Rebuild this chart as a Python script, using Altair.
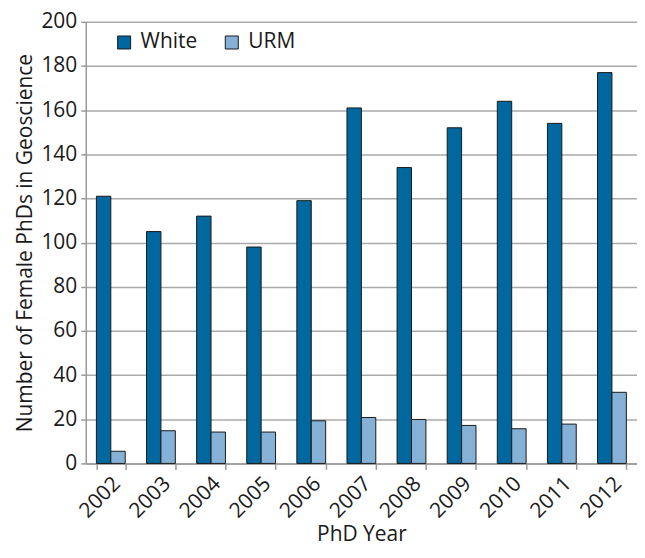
import altair as alt
import pandas as pd

years = ["2002", "2003", "2004", "2005", "2006", "2007", "2008", "2009", "2010", "2011", "2012"]
white = [121, 105, 112, 98, 119, 161, 134, 152, 164, 154, 177]
urm = [5.5, 14.8, 14.2, 14.2, 19.3, 20.8, 19.9, 17.2, 15.7, 17.8, 32.2]
groups = ["White", "URM"]
colors = ["#00679f", "#85b1d6"]

rows = []
for y, w, u in zip(years, white, urm):
    rows.append({"year": y, "group": "White", "value": w})
    rows.append({"year": y, "group": "URM", "value": u})
df = pd.DataFrame(rows)

FONT = "Open Sans"
FS = 21

chart = alt.Chart(df).mark_bar(stroke="#1a1a1a", strokeWidth=1).encode(
    x=alt.X("year:N", title="PhD Year", sort=years,
            scale=alt.Scale(paddingInner=0.425, paddingOuter=0.2125),
            axis=alt.Axis(labelAngle=-45, labelAlign="right", labelBaseline="middle",
                          tickBand="extent", domainColor="#999999", tickColor="#999999",
                          tickSize=6, domainWidth=1.5, tickWidth=1.5,
                          labelFontSize=FS, titleFontSize=FS, labelPadding=11,
                          labelOffset=6,
                          titlePadding=2, labelColor="#1a1a1a", titleColor="#1a1a1a",
                          titleFontWeight="normal", labelFont=FONT, titleFont=FONT)),
    xOffset=alt.XOffset("group:N", sort=groups),
    y=alt.Y("value:Q", title="Number of Female PhDs in Geoscience",
            scale=alt.Scale(domain=[0, 200]),
            axis=alt.Axis(values=list(range(0, 201, 20)), domainColor="#999999",
                          tickColor="#999999", tickSize=5, domainWidth=1.5, tickWidth=1.5,
                          gridColor="#aaaaaa", gridWidth=1.5,
                          labelFontSize=FS, titleFontSize=FS, labelPadding=4,
                          titlePadding=5, labelColor="#1a1a1a", titleColor="#1a1a1a",
                          titleFontWeight="normal", labelFont=FONT, titleFont=FONT)),
    color=alt.Color("group:N", sort=groups,
                    scale=alt.Scale(domain=groups, range=colors),
                    legend=alt.Legend(title=None, orient="none", legendX=28, legendY=10,
                                      direction="horizontal", symbolType="square",
                                      symbolSize=170, symbolStrokeColor="#1a1a1a",
                                      symbolStrokeWidth=1, labelFontSize=FS,
                                      labelFont=FONT, labelColor="#1a1a1a",
                                      columnPadding=24, labelOffset=6)),
).properties(
    width=553, height=443,
    padding={"left": 6, "top": 2, "right": 0, "bottom": 0},
).configure_view(stroke=None)

chart.save("out.html", embed_options={"renderer": "svg", "actions": False})
